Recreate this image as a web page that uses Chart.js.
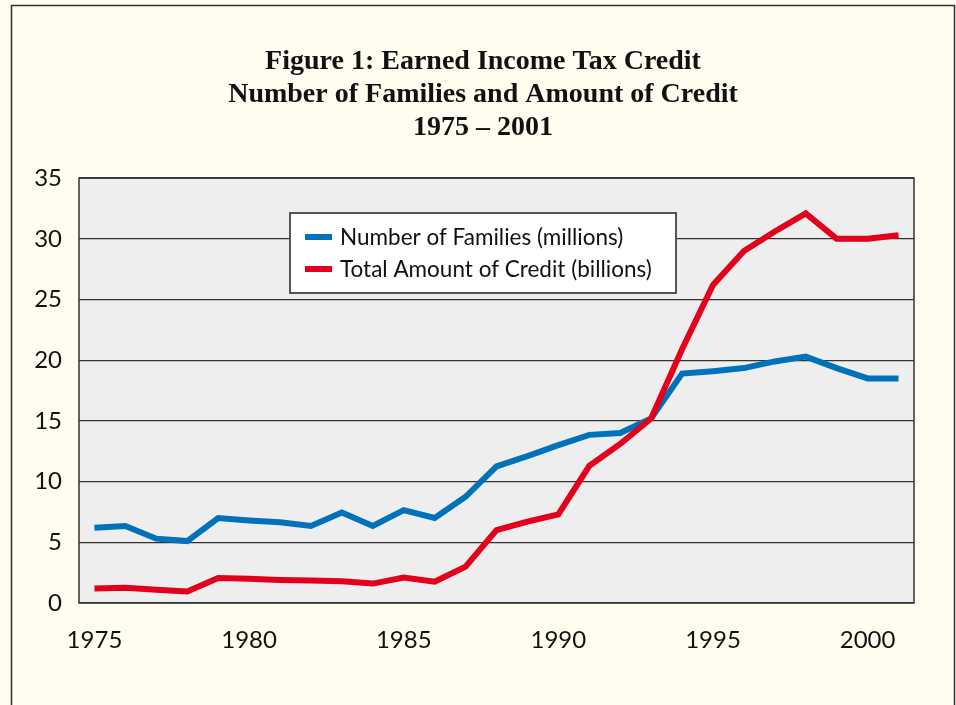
<!DOCTYPE html>
<html lang="en">
<head>
<meta charset="UTF-8">
<title>Earned Income Tax Credit</title>
<script src="https://cdn.jsdelivr.net/npm/chart.js@4"></script>
<style>
    html, body { margin: 0; padding: 0; background: #fffdf0; }
    #grafico { display: block; }
</style>
</head>
<body>
<canvas id="grafico" width="956" height="705"></canvas>

<script>
    // valores
    var anos = [1975, 1976, 1977, 1978, 1979, 1980, 1981, 1982, 1983, 1984, 1985, 1986, 1987,
        1988, 1989, 1990, 1991, 1992, 1993, 1994, 1995, 1996, 1997, 1998, 1999, 2000, 2001];
    var familias = [6.2, 6.35, 5.3, 5.1, 7.0, 6.8, 6.65, 6.35, 7.45, 6.35, 7.65, 7.0, 8.75,
        11.25, 12.1, 13.0, 13.85, 14.0, 15.2, 18.9, 19.1, 19.35, 19.9, 20.3, 19.35, 18.5, 18.5];
    var credito = [1.2, 1.25, 1.1, 0.95, 2.05, 2.0, 1.9, 1.85, 1.8, 1.6, 2.1, 1.75, 3.0,
        6.0, 6.7, 7.3, 11.3, 13.1, 15.2, 20.9, 26.2, 29.0, 30.6, 32.1, 30.0, 30.0, 30.3];
    var ticksY = [0, 5, 10, 15, 20, 25, 30, 35];
    var titulo = ['Figure 1: Earned Income Tax Credit', 'Number of Families and Amount of Credit', '1975 \u2013 2001'];

    var fonteSans = 'Lato, "Open Sans", sans-serif';

    // fundo creme, moldura e fundo cinza da area do grafico
    const fundo = {
        id: 'fundo',
        afterLayout(chart) {
            // titulo centrado um pouco mais a direita, como no original
            if (chart.titleBlock) {
                chart.titleBlock.left += 20;
                chart.titleBlock.right += 20;
            }
        },
        beforeDraw(chart) {
            const ctx = chart.ctx;
            const a = chart.chartArea;
            ctx.save();
            ctx.fillStyle = '#fffdf0';
            ctx.fillRect(0, 0, chart.width, chart.height);
            ctx.strokeStyle = '#2e2e2e';
            ctx.lineWidth = 1.5;
            ctx.strokeRect(11.5, 5.5, 943, 740);
            ctx.fillStyle = '#eeeeee';
            ctx.fillRect(a.left, a.top, a.right - a.left, a.bottom - a.top);
            ctx.restore();
        },
        afterDatasetsDraw(chart) {
            const ctx = chart.ctx;
            const a = chart.chartArea;
            ctx.save();
            ctx.strokeStyle = '#333333';
            ctx.lineWidth = 1.5;
            ctx.strokeRect(a.left, a.top, a.right - a.left, a.bottom - a.top);

            // legenda dentro do grafico
            ctx.fillStyle = '#ffffff';
            ctx.fillRect(290, 213, 386, 80);
            ctx.strokeStyle = '#555555';
            ctx.lineWidth = 2;
            ctx.strokeRect(290, 213, 386, 80);
            ctx.font = '22.5px ' + fonteSans;
            ctx.textBaseline = 'middle';
            chart.data.datasets.forEach(function (ds, i) {
                var y = 237 + i * 32;
                ctx.fillStyle = ds.borderColor;
                ctx.fillRect(305, y - 3, 27, 6);
                ctx.fillStyle = '#111111';
                ctx.fillText(ds.label, 340, y + 1);
            });
            ctx.restore();
        }
    };

    new Chart(document.getElementById('grafico'), {
        type: 'line',
        data: {
            labels: anos,
            datasets: [{
                label: 'Number of Families (millions)',
                data: familias,
                borderColor: '#0072bc',
                borderWidth: 6,
                order: 2
            }, {
                label: 'Total Amount of Credit (billions)',
                data: credito,
                borderColor: '#e2001a',
                borderWidth: 6,
                order: 1
            }]
        },
        options: {
            responsive: false,
            animation: false,
            layout: { padding: { left: 12, right: 42, top: 0, bottom: 0 } },
            elements: {
                point: { radius: 0 },
                line: { tension: 0, borderJoinStyle: 'miter', borderCapStyle: 'butt' }
            },
            plugins: {
                legend: { display: false },
                tooltip: { enabled: false },
                title: {
                    display: true,
                    text: titulo,
                    color: '#111111',
                    font: { family: '"Liberation Serif", serif', size: 28, weight: 'bold', lineHeight: 1.18 },
                    padding: { top: 45, bottom: 34 }
                }
            },
            scales: {
                x: {
                    type: 'category',
                    offset: true,
                    grid: { display: false, drawTicks: false },
                    border: { display: false },
                    afterFit: function (scale) { scale.height = 102; },
                    ticks: {
                        autoSkip: false,
                        maxRotation: 0,
                        padding: 23,
                        color: '#111111',
                        font: { family: fonteSans, size: 24 },
                        callback: function (v, i) {
                            var ano = anos[i];
                            return ano % 5 === 0 ? String(ano) : '';
                        }
                    }
                },
                y: {
                    min: 0,
                    max: 35,
                    afterBuildTicks: function (scale) {
                        scale.ticks = ticksY.map(function (v) { return { value: v }; });
                    },
                    afterFit: function (scale) { scale.width = 67; },
                    grid: { color: '#333333', lineWidth: 1.3, drawTicks: false },
                    border: { display: false },
                    ticks: {
                        padding: 17,
                        color: '#111111',
                        font: { family: fonteSans, size: 24 }
                    }
                }
            }
        },
        plugins: [fundo]
    });
</script>
</body>
</html>
